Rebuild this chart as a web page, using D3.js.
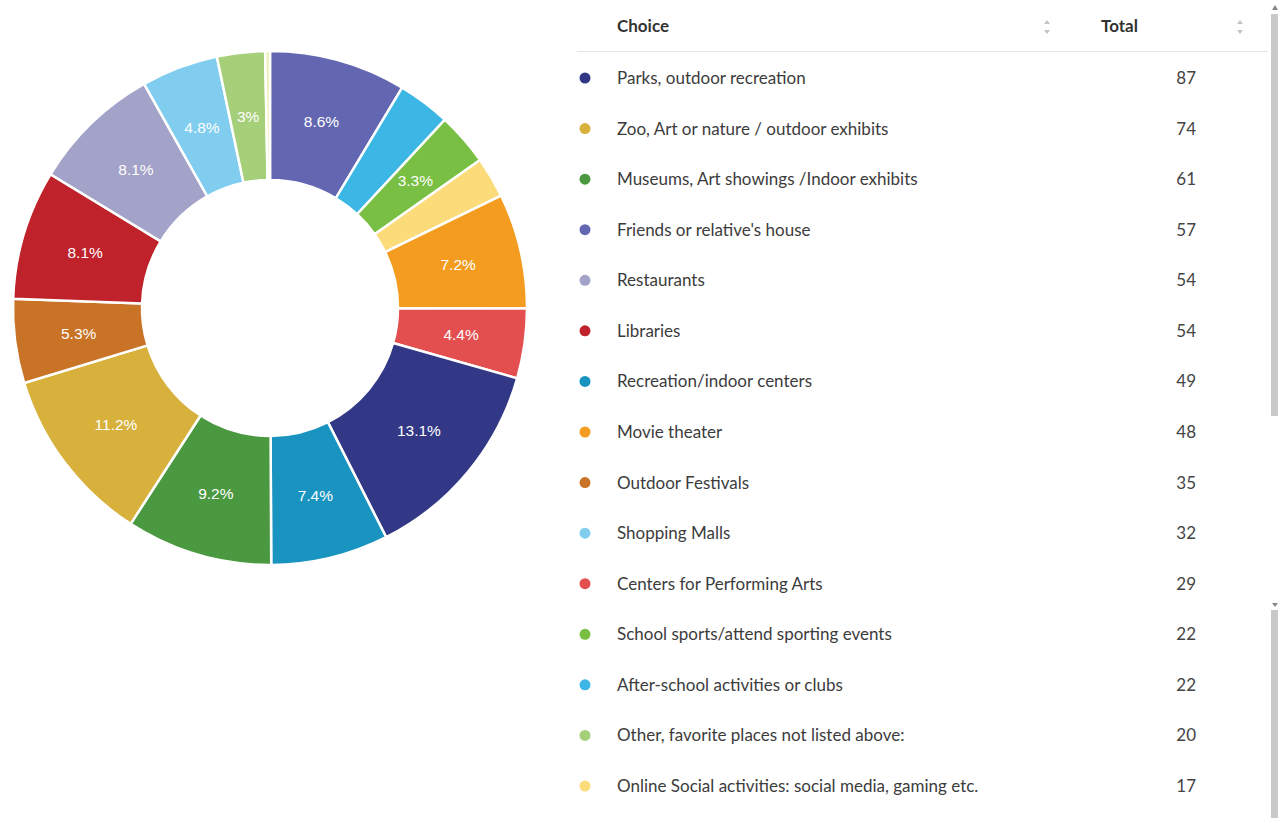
<!DOCTYPE html>
<html>
<head>
<meta charset="utf-8">
<script src="https://cdn.jsdelivr.net/npm/d3@7"></script>
<style>
  body { margin: 0; background: #fff; overflow: hidden; }
  svg { display: block; }
</style>
</head>
<body>
<script>
// Table rows, in the order shown (sorted by total)
var choices = [
  "Parks, outdoor recreation",
  "Zoo, Art or nature / outdoor exhibits",
  "Museums, Art showings /Indoor exhibits",
  "Friends or relative's house",
  "Restaurants",
  "Libraries",
  "Recreation/indoor centers",
  "Movie theater",
  "Outdoor Festivals",
  "Shopping Malls",
  "Centers for Performing Arts",
  "School sports/attend sporting events",
  "After-school activities or clubs",
  "Other, favorite places not listed above:",
  "Online Social activities: social media, gaming etc.",
  "None of the above"
];
var totals = [87, 74, 61, 57, 54, 54, 49, 48, 35, 32, 29, 22, 22, 20, 17, 2];
var colors = ["#323886", "#d8b03c", "#4a983f", "#6367b1", "#a3a2c8", "#bf222b",
  "#1993bf", "#f39c1f", "#c87326", "#80cdf0", "#e34e4e", "#78bf43",
  "#3cb6e4", "#a6cf7a", "#fbdb7a", "#eeeeb8"];

// Order of the slices round the donut, clockwise from the top
var sliceOrder = [
  "Friends or relative's house",
  "After-school activities or clubs",
  "School sports/attend sporting events",
  "Online Social activities: social media, gaming etc.",
  "Movie theater",
  "Centers for Performing Arts",
  "Parks, outdoor recreation",
  "Recreation/indoor centers",
  "Museums, Art showings /Indoor exhibits",
  "Zoo, Art or nature / outdoor exhibits",
  "Outdoor Festivals",
  "Libraries",
  "Restaurants",
  "Shopping Malls",
  "Other, favorite places not listed above:",
  "None of the above"
];
// Slices that carry no percentage label
var unlabelled = [
  "After-school activities or clubs",
  "Online Social activities: social media, gaming etc.",
  "None of the above"
];
// rows visible in the table before it scrolls
var visibleRows = 15;

var W = 1278;
var H = 818;
var CX = 270, CY = 308, R = 257, R0 = 128;

function main() {
  var svg = d3.select("body").append("svg")
    .attr("width", W)
    .attr("height", H);

  var rows = choices.map(function(c, i) {
    return {name: c, value: totals[i], color: colors[i]};
  });
  var byName = {};
  rows.forEach(function(r) { byName[r.name] = r; });
  var sum = d3.sum(totals);

  drawDonut(svg, sliceOrder.map(function(n) { return byName[n]; }), sum);
  drawTable(svg, rows.slice(0, visibleRows));
  drawScrollbar(svg);
}

function drawDonut(svg, data, sum) {
  var pie = d3.pie().sort(null).value(function(d) { return d.value; });
  var arc = d3.arc().innerRadius(R0).outerRadius(R);
  var labelArc = d3.arc().innerRadius(193).outerRadius(193);
  var fmt = function(v) {
    var p = Math.round(v / sum * 1000) / 10;
    return p + "%";
  };

  var g = svg.append("g").attr("transform", "translate(" + CX + "," + CY + ")");
  var arcs = pie(data);

  g.selectAll("path")
    .data(arcs)
    .enter()
    .append("path")
    .attr("d", arc)
    .attr("fill", function(d) { return d.data.color; })
    .attr("stroke", "#fff")
    .attr("stroke-width", 2.5);

  g.selectAll("text")
    .data(arcs.filter(function(d) { return unlabelled.indexOf(d.data.name) < 0; }))
    .enter()
    .append("text")
    .attr("transform", function(d) { return "translate(" + labelArc.centroid(d) + ")"; })
    .attr("text-anchor", "middle")
    .attr("dy", "0.35em")
    .attr("fill", "#fff")
    .style("font-family", "'Liberation Sans', Arial, sans-serif")
    .style("font-size", "15.5px")
    .text(function(d) { return fmt(d.data.value); });
}

function drawTable(svg, rows) {
  var x0 = 577, x1 = 1268;
  var y = d3.scaleLinear().domain([0, 14]).range([78, 786]);

  var head = svg.append("g")
    .style("font-family", "Lato, sans-serif")
    .style("font-size", "17px")
    .style("font-weight", "bold")
    .attr("fill", "#333");
  head.append("text").attr("x", 617).attr("y", 32).text("Choice");
  head.append("text").attr("x", 1101).attr("y", 32).text("Total");

  [1047, 1240].forEach(function(x) {
    svg.append("path")
      .attr("d", "M" + (x - 3) + ",24 L" + (x + 3) + ",24 L" + x + ",20 Z" +
                 "M" + (x - 3) + ",30 L" + (x + 3) + ",30 L" + x + ",34 Z")
      .attr("fill", "#c4c4c4");
  });

  svg.append("line")
    .attr("x1", x0).attr("x2", x1)
    .attr("y1", 51.5).attr("y2", 51.5)
    .attr("stroke", "#e6e6e6");

  var row = svg.selectAll("g.row")
    .data(rows)
    .enter()
    .append("g")
    .attr("class", "row")
    .attr("transform", function(d, i) { return "translate(0," + y(i) + ")"; });

  row.append("circle")
    .attr("cx", 585)
    .attr("cy", 0)
    .attr("r", 5.5)
    .attr("fill", function(d) { return d.color; });

  row.append("text")
    .attr("x", 617)
    .attr("dy", "0.35em")
    .attr("fill", "#3c3c3c")
    .style("font-family", "Lato, sans-serif")
    .style("font-size", "17px")
    .text(function(d) { return d.name; });

  row.append("text")
    .attr("x", 1196)
    .attr("dy", "0.35em")
    .attr("text-anchor", "end")
    .attr("fill", "#444")
    .style("font-family", "Lato, sans-serif")
    .style("font-size", "17px")
    .text(function(d) { return d.value; });
}

function drawScrollbar(svg) {
  svg.append("rect")
    .attr("x", 1271).attr("y", 14)
    .attr("width", 7).attr("height", 402)
    .attr("fill", "#c9c9c9");
  svg.append("rect")
    .attr("x", 1271).attr("y", 610)
    .attr("width", 7).attr("height", 208)
    .attr("fill", "#c9c9c9");
  svg.append("path").attr("d", "M1272,10 L1278,10 L1275,5 Z").attr("fill", "#888");
  svg.append("path").attr("d", "M1272,603 L1278,603 L1275,607 Z").attr("fill", "#888");
}

main();
</script>
</body>
</html>
